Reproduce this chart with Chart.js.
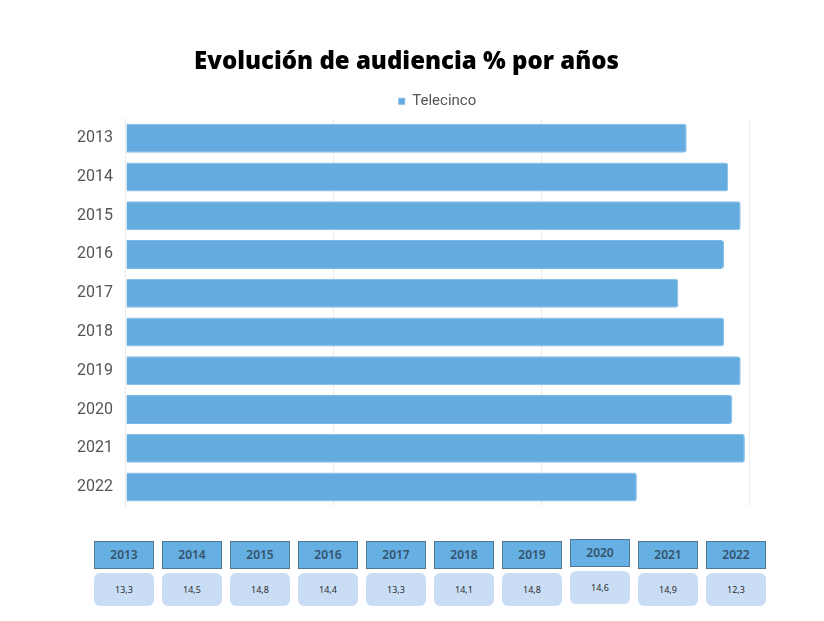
<!DOCTYPE html>
<html>
<head>
<meta charset="utf-8">
<script src="https://cdn.jsdelivr.net/npm/chart.js@4"></script>
<style>
  body { margin: 0; background: #fff; }
  #wrap { position: relative; width: 824px; height: 621px; }
  #chartBox { position: absolute; left: 0; top: 0; width: 824px; height: 529px; }
  #table { position: absolute; left: 94px; top: 541px; }
  .cell { position: absolute; width: 60px; text-align: center; font-family: "Noto Sans", sans-serif; box-sizing: border-box; }
  .head { top: 0; height: 28px; line-height: 26px; background: #66b0e3; border: 1px solid #4f7896;
          color: #36536d; font-size: 12px; font-weight: 600; }
  .val { top: 32px; height: 33px; line-height: 33px; background: #c9def4; border-radius: 6px;
         color: #2b2b2b; font-size: 9px; }
</style>
</head>
<body>
<div id="wrap">
  <div id="chartBox"><canvas id="audiencia"></canvas></div>
  <div id="table"></div>
</div>
<script>
const years = ["2013", "2014", "2015", "2016", "2017", "2018", "2019", "2020", "2021", "2022"];
const telecinco = [13.5, 14.5, 14.8, 14.4, 13.3, 14.4, 14.8, 14.6, 14.9, 12.3];
const tableValues = ["13,3", "14,5", "14,8", "14,4", "13,3", "14,1", "14,8", "14,6", "14,9", "12,3"];
const xTicks = [0, 5, 10, 15];

// tabla inferior
const table = document.getElementById("table");
years.forEach(function (y, i) {
  const h = document.createElement("div");
  h.className = "cell head";
  h.style.left = (i * 68) + "px";
  if (y === "2020") h.style.top = "-2px";
  h.textContent = y;
  table.appendChild(h);
  const v = document.createElement("div");
  v.className = "cell val";
  v.style.left = (i * 68) + "px";
  if (y === "2020") v.style.top = "30px";
  v.textContent = tableValues[i];
  table.appendChild(v);
});

new Chart(document.getElementById("audiencia"), {
  type: "bar",
  data: {
    labels: years,
    datasets: [
      {
        label: "Telecinco",
        data: telecinco,
        backgroundColor: "#64ace0",
        borderColor: "#7db9e6",
        borderWidth: 1,
        borderRadius: 3,
        borderSkipped: "start",
        barPercentage: 0.9,
        categoryPercentage: 0.83,
      },
    ],
  },
  options: {
    indexAxis: "y",
    responsive: true,
    maintainAspectRatio: false,
    animation: false,
    layout: { padding: { left: 64, right: 75, top: 42, bottom: 1 } },
    plugins: {
      title: {
        display: true,
        text: "Evolución de audiencia % por años",
        color: "#000",
        font: { family: "'Noto Sans', sans-serif", size: 24, weight: "900" },
        padding: { top: 6, bottom: 10 },
      },
      legend: {
        fullSize: false,
        labels: {
          usePointStyle: true,
          pointStyle: "rect",
          boxWidth: 6,
          boxHeight: 6,
          padding: 7,
          color: "#555",
          font: { family: "Roboto, sans-serif", size: 15 },
        },
      },
      tooltip: { enabled: false },
    },
    scales: {
      x: {
        min: 0,
        max: 15,
        afterBuildTicks: function (axis) {
          axis.ticks = xTicks.map(function (v) { return { value: v }; });
        },
        ticks: { display: false },
        grid: { color: "#ececec", drawTicks: false },
        border: { display: false },
      },
      y: {
        grid: { display: false, tickLength: 0 },
        border: { color: "#ececec" },
        ticks: {
          color: "#555",
          padding: 13,
          font: { family: "Roboto, sans-serif", size: 16 },
        },
      },
    },
  },
});
</script>
</body>
</html>
